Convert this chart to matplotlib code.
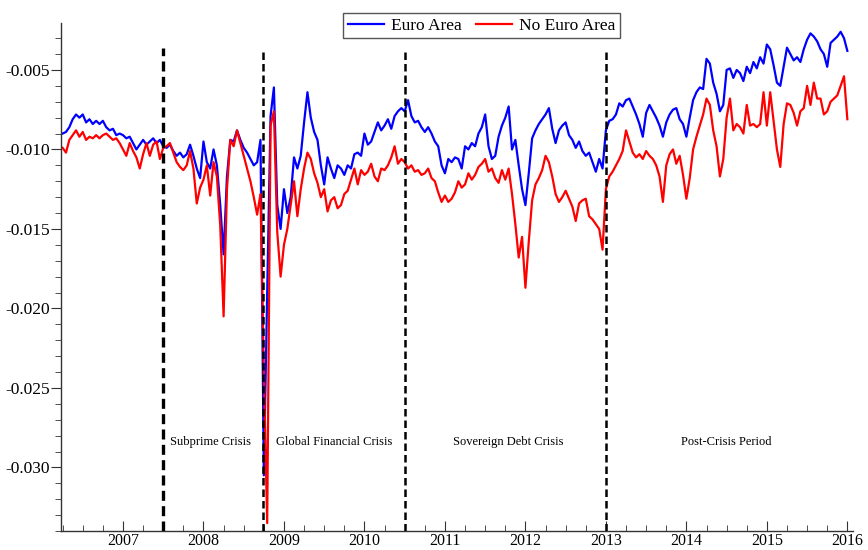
import matplotlib
matplotlib.use("Agg")
import matplotlib.pyplot as plt
import numpy as np
from matplotlib.ticker import MultipleLocator, FormatStrFormatter

plt.rcParams["font.family"] = ["Liberation Serif", "DejaVu Serif"]
plt.rcParams["axes.unicode_minus"] = False

# semi-monthly observations, first one in April 2006 (decimal years)
START = 2006.25
STEP = 1 / 24

euro_area = [
    # 2006 (Apr-Dec)
    -0.0090, -0.0089, -0.0086, -0.0081, -0.0078, -0.0080,
    -0.0078, -0.0083, -0.0081, -0.0084, -0.0082, -0.0084,
    -0.0082, -0.0086, -0.0088, -0.0087, -0.0091, -0.0090,
    # 2007
    -0.0091, -0.0093, -0.0092, -0.0096, -0.0100, -0.0097, -0.0094, -0.0097, -0.0095, -0.0093, -0.0096, -0.0094,
    -0.0098, -0.0099, -0.0097, -0.0101, -0.0104, -0.0102, -0.0105, -0.0103, -0.0097, -0.0104, -0.0112, -0.0118,
    # 2008
    -0.0095, -0.0108, -0.0112, -0.0100, -0.0110, -0.0135, -0.0166, -0.0117, -0.0094, -0.0095, -0.0088, -0.0094,
    -0.0099, -0.0102, -0.0106, -0.0110, -0.0108, -0.0094, -0.0305, -0.0190, -0.0079, -0.0061, -0.0135, -0.0150,
    # 2009
    -0.0125, -0.0140, -0.0130, -0.0105, -0.0112, -0.0104, -0.0083, -0.0064, -0.0080, -0.0089, -0.0094, -0.0110,
    -0.0122, -0.0105, -0.0112, -0.0118, -0.0110, -0.0112, -0.0116, -0.0110, -0.0112, -0.0103, -0.0102, -0.0104,
    # 2010
    -0.0090, -0.0097, -0.0095, -0.0089, -0.0083, -0.0088, -0.0085, -0.0081, -0.0087, -0.0079, -0.0076, -0.0074,
    -0.0076, -0.0069, -0.0079, -0.0083, -0.0082, -0.0086, -0.0089, -0.0086, -0.0090, -0.0095, -0.0098, -0.0110,
    # 2011
    -0.0115, -0.0106, -0.0108, -0.0105, -0.0106, -0.0112, -0.0098, -0.0100, -0.0096, -0.0098, -0.0090, -0.0086,
    -0.0078, -0.0098, -0.0106, -0.0104, -0.0092, -0.0085, -0.0080, -0.0073, -0.0100, -0.0094, -0.0110, -0.0125,
    # 2012
    -0.0135, -0.0115, -0.0093, -0.0088, -0.0084, -0.0081, -0.0078, -0.0074, -0.0087, -0.0096, -0.0088, -0.0085,
    -0.0083, -0.0091, -0.0094, -0.0099, -0.0095, -0.0101, -0.0104, -0.0102, -0.0108, -0.0114, -0.0106, -0.0112,
    # 2013
    -0.0088, -0.0082, -0.0081, -0.0078, -0.0071, -0.0073, -0.0069, -0.0068, -0.0073, -0.0078, -0.0084, -0.0092,
    -0.0077, -0.0072, -0.0076, -0.0080, -0.0085, -0.0092, -0.0083, -0.0078, -0.0075, -0.0074, -0.0081, -0.0084,
    # 2014
    -0.0092, -0.0080, -0.0069, -0.0064, -0.0061, -0.0062, -0.0043, -0.0046, -0.0058, -0.0065, -0.0076, -0.0072,
    -0.0050, -0.0049, -0.0055, -0.0050, -0.0052, -0.0057, -0.0048, -0.0052, -0.0045, -0.0049, -0.0042, -0.0046,
    # 2015 + first obs of 2016
    -0.0034, -0.0037, -0.0047, -0.0058, -0.0060, -0.0048, -0.0036, -0.0040, -0.0044, -0.0042, -0.0045, -0.0037,
    -0.0031, -0.0027, -0.0029, -0.0032, -0.0037, -0.0040, -0.0048, -0.0033, -0.0031, -0.0029, -0.0026, -0.0030,
    -0.0038,
]

no_euro_area = [
    # 2006 (Apr-Dec)
    -0.0099, -0.0102, -0.0094, -0.0091, -0.0088, -0.0092,
    -0.0089, -0.0094, -0.0092, -0.0093, -0.0091, -0.0093,
    -0.0091, -0.0090, -0.0092, -0.0094, -0.0093, -0.0096,
    # 2007
    -0.0100, -0.0104, -0.0096, -0.0101, -0.0105, -0.0112, -0.0103, -0.0096, -0.0104, -0.0097, -0.0095, -0.0106,
    -0.0099, -0.0098, -0.0096, -0.0102, -0.0108, -0.0111, -0.0113, -0.0110, -0.0101, -0.0112, -0.0134, -0.0124,
    # 2008
    -0.0119, -0.0110, -0.0129, -0.0108, -0.0117, -0.0148, -0.0205, -0.0125, -0.0094, -0.0098, -0.0088, -0.0096,
    -0.0104, -0.0112, -0.0120, -0.0130, -0.0141, -0.0128, -0.0240, -0.0335, -0.0085, -0.0076, -0.0152, -0.0180,
    # 2009
    -0.0160, -0.0150, -0.0135, -0.0120, -0.0142, -0.0125, -0.0112, -0.0102, -0.0106, -0.0115, -0.0121, -0.0130,
    -0.0125, -0.0139, -0.0132, -0.0130, -0.0137, -0.0135, -0.0128, -0.0126, -0.0119, -0.0112, -0.0122, -0.0113,
    # 2010
    -0.0116, -0.0114, -0.0109, -0.0117, -0.0120, -0.0112, -0.0113, -0.0110, -0.0105, -0.0098, -0.0109, -0.0106,
    -0.0108, -0.0112, -0.0110, -0.0114, -0.0113, -0.0116, -0.0115, -0.0112, -0.0118, -0.0120, -0.0127, -0.0133,
    # 2011
    -0.0129, -0.0133, -0.0131, -0.0127, -0.0120, -0.0124, -0.0122, -0.0115, -0.0119, -0.0116, -0.0111, -0.0109,
    -0.0106, -0.0114, -0.0112, -0.0118, -0.0121, -0.0113, -0.0119, -0.0112, -0.0128, -0.0147, -0.0168, -0.0155,
    # 2012
    -0.0187, -0.0158, -0.0132, -0.0122, -0.0118, -0.0113, -0.0104, -0.0108, -0.0117, -0.0128, -0.0133, -0.0130,
    -0.0126, -0.0131, -0.0136, -0.0145, -0.0134, -0.0132, -0.0131, -0.0142, -0.0144, -0.0147, -0.0150, -0.0163,
    # 2013
    -0.0125, -0.0117, -0.0114, -0.0110, -0.0106, -0.0101, -0.0088, -0.0095, -0.0102, -0.0105, -0.0103, -0.0106,
    -0.0101, -0.0104, -0.0106, -0.0110, -0.0117, -0.0133, -0.0110, -0.0103, -0.0100, -0.0109, -0.0104, -0.0116,
    # 2014
    -0.0131, -0.0118, -0.0100, -0.0092, -0.0085, -0.0078, -0.0068, -0.0072, -0.0088, -0.0098, -0.0117, -0.0106,
    -0.0080, -0.0068, -0.0088, -0.0084, -0.0086, -0.0090, -0.0072, -0.0085, -0.0084, -0.0086, -0.0084, -0.0064,
    # 2015 + first obs of 2016
    -0.0085, -0.0064, -0.0082, -0.0100, -0.0111, -0.0084, -0.0071, -0.0072, -0.0077, -0.0085, -0.0076, -0.0074,
    -0.0060, -0.0072, -0.0058, -0.0068, -0.0068, -0.0078, -0.0076, -0.0070, -0.0068, -0.0066, -0.0060, -0.0054,
    -0.0081,
]

# period breaks (decimal years) and period names
break_dates = [2007.5, 2008.74, 2010.5, 2013.0]
period_names = ["Subprime Crisis", "Global Financial Crisis",
                "Sovereign Debt Crisis", "Post-Crisis Period"]


def main():
    fig = plt.figure(figsize=(8.68, 5.5), dpi=100)
    ax = fig.add_axes([0.0703, 0.0345, 0.9124, 0.9236])

    t_eu = START + STEP * np.arange(len(euro_area))
    t_ne = START + STEP * np.arange(len(no_euro_area))
    ax.plot(t_eu, euro_area, color="#0000ff", lw=1.6, label="Euro Area")
    ax.plot(t_ne, no_euro_area, color="#ff0000", lw=1.6, label="No Euro Area")

    # dashed break lines, stop a little under the top of the frame
    tops = [-0.0036, -0.0037, -0.0038, -0.0039]
    widths = [2.4, 1.8, 1.8, 1.8]
    for d, top, w in zip(break_dates, tops, widths):
        ax.plot([d, d], [-0.0340, top], color="black", lw=w,
                ls=(0, (3.0, 1.6)), zorder=3)

    label_x = [2008.09, 2009.63, 2011.79, 2014.50]
    for x, name in zip(label_x, period_names):
        ax.text(x, -0.0284, name, ha="center", va="center", fontsize=9)

    ax.set_xlim(2006.23, 2016.07)
    ax.set_ylim(-0.0340, -0.00205)
    for s in ("top", "right"):
        ax.spines[s].set_visible(False)
    for s in ("left", "bottom"):
        ax.spines[s].set_color("#333333")
        ax.spines[s].set_linewidth(1.0)

    ax.xaxis.set_major_locator(MultipleLocator(1))
    ax.xaxis.set_minor_locator(MultipleLocator(0.25))
    ax.xaxis.set_major_formatter(FormatStrFormatter("%.0f"))
    ax.yaxis.set_major_locator(MultipleLocator(0.005))
    ax.yaxis.set_minor_locator(MultipleLocator(0.001))
    ax.yaxis.set_major_formatter(FormatStrFormatter("%.3f"))

    ax.tick_params(axis="x", which="major", direction="in", length=7, labelsize=11.5, pad=1.5)
    ax.tick_params(axis="x", which="minor", direction="in", length=4)
    ax.tick_params(axis="y", which="major", direction="out", length=7, labelsize=12.5, pad=1)
    ax.tick_params(axis="y", which="minor", direction="out", length=4)
    ax.tick_params(which="both", color="#333333")

    leg = fig.legend(loc="upper center", bbox_to_anchor=(0.555, 0.976), ncol=2,
                     fontsize=12.5, frameon=True, fancybox=False, framealpha=1,
                     edgecolor="#555555", handlelength=2.1, handletextpad=0.4,
                     columnspacing=0.8, borderpad=0.25, borderaxespad=0)
    leg.get_frame().set_linewidth(1.0)

    fig.savefig("out.png", dpi=100)


if __name__ == "__main__":
    main()
